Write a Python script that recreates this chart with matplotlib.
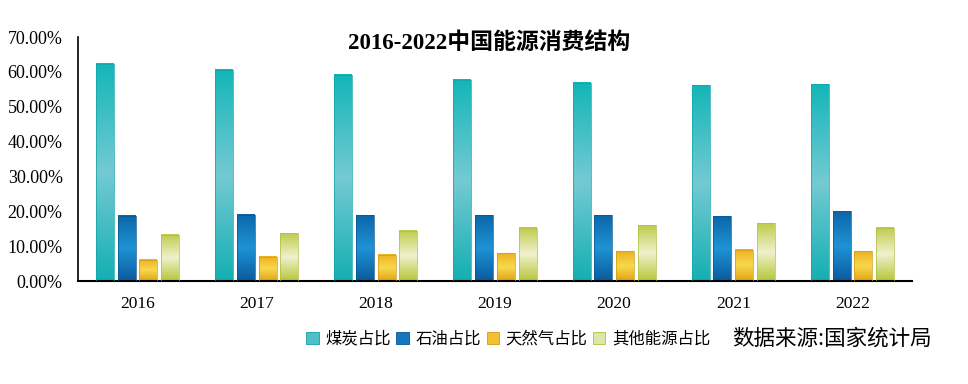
import numpy as np
import matplotlib
matplotlib.use("Agg")
import matplotlib.pyplot as plt
from matplotlib.colors import LinearSegmentedColormap
from matplotlib.patches import Patch
from matplotlib.ticker import FuncFormatter

years = ["2016", "2017", "2018", "2019", "2020", "2021", "2022"]
series_names = ["煤炭占比", "石油占比", "天然气占比", "其他能源占比"]
coal = [62.4, 60.6, 59.1, 57.7, 56.9, 56.1, 56.5]
oil = [18.7, 19.0, 18.9, 18.9, 18.9, 18.6, 20.0]
gas = [6.1, 6.9, 7.6, 8.0, 8.5, 9.0, 8.5]
other = [13.2, 13.7, 14.5, 15.3, 16.0, 16.6, 15.3]
title = "2016-2022中国能源消费结构"
source = "数据来源:国家统计局"

series = [coal, oil, gas, other]
grad_colors = [
    ["#14AFB2", "#74CAD3", "#13B6B8"],
    ["#0B5A9C", "#1E93D5", "#0C66A8"],
    ["#E2A312", "#F8D84E", "#EDB21E"],
    ["#B6C638", "#EFF1CC", "#BFCB4C"],
]
edge_colors = ["#11A3A6", "#0A5590", "#D09A18", "#B0BE40"]
legend_colors = ["#4EC0C6", "#1278C0", "#F2C030", "#DDE6A8"]

fig = plt.figure(figsize=(9.68, 3.84), dpi=100)
ax = fig.add_axes([0.0806, 0.268, 0.8615, 0.6356])

n = len(years)
x = np.arange(n)
width = 0.151
pitch = 0.182
offsets = (np.arange(4) - 1.5) * pitch

grad = np.linspace(0, 1, 256).reshape(-1, 1)
for i, vals in enumerate(series):
    bars = ax.bar(x + offsets[i], vals, width=width, color="none",
                  edgecolor=edge_colors[i], linewidth=0.5, zorder=3)
    cmap = LinearSegmentedColormap.from_list(f"g{i}", grad_colors[i])
    for b in bars:
        x0 = b.get_x()
        w = b.get_width()
        h = b.get_height()
        ax.imshow(grad, cmap=cmap, aspect="auto", origin="lower",
                  extent=[x0, x0 + w, 0, h], zorder=2,
                  interpolation="bilinear")

ax.set_xlim(-0.5, n - 0.5)
ax.set_ylim(0, 70)
ax.set_yticks(np.arange(0, 71, 10))
ax.yaxis.set_major_formatter(FuncFormatter(lambda v, p: f"{v:.2f}%"))
ax.set_xticks(x)
ax.set_xticklabels(years)
for sp in ["top", "right"]:
    ax.spines[sp].set_visible(False)
ax.spines["left"].set_linewidth(1.2)
ax.spines["bottom"].set_linewidth(1.5)
ax.tick_params(axis="y", length=0, pad=11, labelsize=13)
ax.tick_params(axis="x", length=0, pad=11, labelsize=12.5)
for lab in ax.get_yticklabels() + ax.get_xticklabels():
    lab.set_fontfamily("Liberation Serif")

fig.text(0.505, 0.888, title, ha="center", va="center", fontsize=16.5,
         fontweight="bold", family=["Liberation Serif", "Noto Sans CJK SC"])

handles = [Patch(facecolor=legend_colors[i], edgecolor=edge_colors[i], linewidth=0.6)
           for i in range(4)]
fig.legend(handles, series_names, loc="center", bbox_to_anchor=(0.525, 0.117),
           ncol=4, frameon=False, handlelength=0.75, handleheight=0.75,
           handletextpad=0.4, columnspacing=0.35,
           prop={"family": "Noto Sans CJK SC", "size": 11.8})

fig.text(0.859, 0.117, source, ha="center", va="center", fontsize=15.5,
         family=["Noto Sans CJK SC", "DejaVu Sans"], fontweight="medium")

fig.savefig("out.png", dpi=100)
